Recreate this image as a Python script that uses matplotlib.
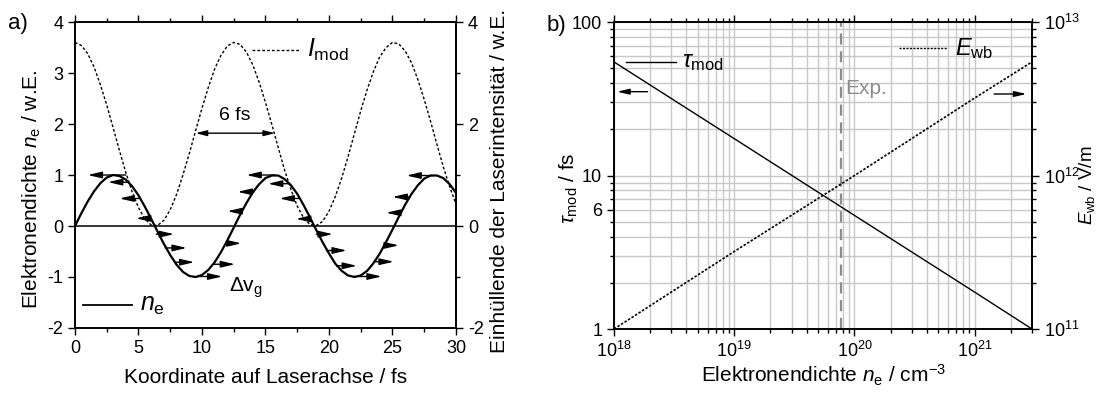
import matplotlib
matplotlib.use('Agg')
import matplotlib.pyplot as plt
import numpy as np
from matplotlib.ticker import MultipleLocator, FixedLocator, FixedFormatter, LogLocator, NullFormatter

plt.rcParams['font.family'] = ['Liberation Sans', 'DejaVu Sans']
plt.rcParams['mathtext.fontset'] = 'custom'
plt.rcParams['mathtext.rm'] = 'Liberation Sans'
plt.rcParams['mathtext.it'] = 'Liberation Sans:italic'
plt.rcParams['font.size'] = 13
plt.rcParams['axes.unicode_minus'] = False

# ---- panel a data ----
x_fs = np.linspace(0, 30, 61)
n_e = [0.00, 0.25, 0.48, 0.68, 0.84, 0.95, 1.00, 0.98, 0.91, 0.78,
       0.60, 0.38, 0.14, -0.11, -0.35, -0.57, -0.76, -0.90, -0.98, -1.00,
       -0.96, -0.86, -0.71, -0.51, -0.28, -0.03, 0.22, 0.45, 0.66, 0.82,
       0.94, 0.99, 0.99, 0.92, 0.80, 0.63, 0.41, 0.17, -0.08, -0.32,
       -0.54, -0.74, -0.88, -0.97, -1.00, -0.97, -0.88, -0.73, -0.54, -0.31,
       -0.07, 0.18, 0.42, 0.63, 0.80, 0.93, 0.99, 0.99, 0.94, 0.82,
       0.65]
I_mod = [3.60, 3.54, 3.38, 3.12, 2.77, 2.37, 1.93, 1.48, 1.05, 0.67,
         0.36, 0.14, 0.02, 0.01, 0.11, 0.32, 0.62, 1.00, 1.42, 1.87,
         2.31, 2.72, 3.08, 3.35, 3.53, 3.60, 3.56, 3.41, 3.16, 2.82,
         2.42, 1.99, 1.54, 1.10, 0.72, 0.39, 0.16, 0.03, 0.01, 0.09,
         0.29, 0.58, 0.94, 1.36, 1.81, 2.26, 2.67, 3.03, 3.32, 3.50,
         3.60, 3.57, 3.43, 3.20, 2.87, 2.48, 2.05, 1.60, 1.16, 0.77,
         0.43]

# group velocity arrows (y, tail x, tip x)
arrow_y    = [1.00, 0.86, 0.54, 0.15, -0.16, -0.43, -0.71, -0.99,
              0.67, 0.29, -0.34, -0.75, 1.00, 0.83, 0.54, 0.14,
              -0.16, -0.48, -0.78, -0.99, -0.70, -0.38, 0.26, 0.57, 0.99]
arrow_tail = [4.0, 4.2, 5.1, 5.9, 6.4, 7.1, 7.9, 9.6,
              14.1, 13.1, 11.9, 10.9, 15.75, 16.8, 17.6, 18.4,
              19.0, 19.8, 20.6, 21.9, 23.5, 24.3, 25.6, 26.4, 28.2]
arrow_tip  = [1.0, 2.6, 3.5, 4.8, 7.8, 8.8, 9.4, 11.6,
              12.8, 12.0, 13.1, 12.6, 13.5, 15.2, 16.1, 17.4,
              20.3, 21.4, 22.2, 24.15, 25.1, 25.5, 24.5, 25.0, 26.1]

# ---- panel b data ----
n_cm3 = [1e18, 1e19, 1e20, 1e21, 3e21]
tau_mod = [55, 17.4, 5.5, 1.74, 1.0]
E_wb = [1e11, 3.2e11, 1e12, 3.2e12, 5.5e12]
n_exp = 7.8e19

fig = plt.figure(figsize=(10.98, 3.93), dpi=100)
axa = fig.add_axes([0.0683, 0.1654, 0.347, 0.7786])
axb = fig.add_axes([0.5592, 0.1628, 0.3807, 0.781])

def style(ax):
    for s in ax.spines.values():
        s.set_linewidth(1.2)
    ax.tick_params(which='both', direction='out', width=1.0, labelsize=13)
    ax.tick_params(which='major', length=5)
    ax.tick_params(which='minor', length=3)

head = '-|>,head_length=0.6,head_width=0.14'

# ---------------- panel a ----------------
axa.plot(x_fs, n_e, color='k', lw=1.6)
axa.axhline(0, color='k', lw=1.1)
axa.set_xlim(0, 30)
axa.set_ylim(-2, 4)
axa.xaxis.set_major_locator(MultipleLocator(5))
axa.xaxis.set_minor_locator(MultipleLocator(2.5))
axa.yaxis.set_major_locator(MultipleLocator(1))
axa.tick_params(top=True, which='both')
style(axa)
axa.set_xlabel('Koordinate auf Laserachse / fs', fontsize=15)
axa.set_ylabel(r'Elektronendichte $n_\mathregular{e}$ / w.E.', fontsize=15)
axa.xaxis.set_label_coords(0.5, -0.13)
axa.yaxis.set_label_coords(-0.084, 0.455)

axa2 = axa.twinx()
axa2.plot(x_fs, I_mod, color='k', lw=1.0, ls=(0, (2, 1.5)))
axa2.set_ylim(-2, 4)
axa2.yaxis.set_major_locator(MultipleLocator(2))
axa2.yaxis.set_minor_locator(MultipleLocator(1))
style(axa2)
axa2.set_ylabel('Einhüllende der Laserintensität / w.E.', fontsize=15)
axa2.yaxis.set_label_coords(1.089, 0.48)

for y, xt, xh in zip(arrow_y, arrow_tail, arrow_tip):
    axa.annotate('', xy=(xh, y), xytext=(xt, y),
                 arrowprops=dict(arrowstyle=head, color='k', lw=1.0,
                                 mutation_scale=14, shrinkA=0, shrinkB=0))

# 6 fs width marker
axa.annotate('', xy=(9.5, 1.82), xytext=(15.75, 1.82),
             arrowprops=dict(arrowstyle='<|-|>,head_length=0.55,head_width=0.14', color='k', lw=1.0,
                             mutation_scale=12, shrinkA=0, shrinkB=0))
axa.text(12.6, 2.0, '6 fs', ha='center', va='bottom', fontsize=14)

# legend-like labels
axa.plot([0.65, 4.5], [-1.55, -1.55], color='k', lw=1.3)
axa.text(5.1, -1.55, r'$n_\mathregular{e}$', fontsize=18, va='center')
axa.plot([13.9, 17.7], [3.45, 3.45], color='k', lw=1.0, ls=(0, (2, 1.5)))
axa.text(18.3, 3.45, r'$I_\mathregular{mod}$', fontsize=18, va='center')
axa.text(12.1, -1.22, r'$\Delta$v$_\mathregular{g}$', fontsize=15, va='center')
fig.text(0.007, 0.94, 'a)', fontsize=16, va='center')

# ---------------- panel b ----------------
axb.set_xscale('log')
axb.set_yscale('log')
axb.plot(n_cm3, tau_mod, color='k', lw=1.0)
axb.axvline(n_exp, color='#8c8c8c', lw=1.6, ls=(0, (5, 3)))
axb.set_xlim(1e18, 3e21)
axb.set_ylim(1, 100)
axb.xaxis.set_major_locator(LogLocator(base=10, numticks=10))
axb.xaxis.set_minor_locator(LogLocator(base=10, subs=np.arange(2, 10), numticks=10))
axb.xaxis.set_minor_formatter(NullFormatter())
axb.yaxis.set_major_locator(FixedLocator([1, 6, 10, 100]))
axb.yaxis.set_major_formatter(FixedFormatter(['1', '6', '10', '100']))
axb.yaxis.set_minor_locator(FixedLocator([2, 3, 4, 5, 7, 8, 9, 20, 30, 40, 50, 60, 70, 80, 90]))
axb.yaxis.set_minor_formatter(NullFormatter())
axb.grid(True, which='both', color='#c8c8c8', lw=1.0)
axb.set_axisbelow(True)
axb.tick_params(top=True, which='both')
style(axb)
axb.set_xlabel(r'Elektronendichte $n_\mathregular{e}$ / cm$^{-3}$', fontsize=15)
axb.set_ylabel(r'$\tau_\mathregular{mod}$ / fs', fontsize=15)
axb.xaxis.set_label_coords(0.5, -0.11)
axb.yaxis.set_label_coords(-0.082, 0.46)

axb2 = axb.twinx()
axb2.set_yscale('log')
axb2.plot(n_cm3, E_wb, color='k', lw=1.2, ls=(0, (1.5, 1)))
axb2.set_ylim(1e11, 1e13)
axb2.yaxis.set_minor_formatter(NullFormatter())
style(axb2)
axb2.set_ylabel(r'$E_\mathregular{wb}$ / V/m', fontsize=13.5)
axb2.yaxis.set_label_coords(1.107, 0.47)

axb.plot([1.26e18, 3.27e18], [54.6, 54.6], color='k', lw=1.0)
axb.text(3.7e18, 54.6, r'$\tau_\mathregular{mod}$', fontsize=17, va='center')
axb.annotate('', xy=(1.06e18, 35.2), xytext=(1.9e18, 35.2),
             arrowprops=dict(arrowstyle=head, color='k', lw=1.0,
                             mutation_scale=12, shrinkA=0, shrinkB=0))
axb.plot([2.36e20, 5.9e20], [67.4, 67.4], color='k', lw=1.0, ls=(0, (1.5, 1)))
axb.text(6.9e20, 67.4, r'$E_\mathregular{wb}$', fontsize=17, va='center')
axb.annotate('', xy=(2.7e21, 34), xytext=(1.45e21, 34),
             arrowprops=dict(arrowstyle=head, color='k', lw=1.0,
                             mutation_scale=12, shrinkA=0, shrinkB=0))
axb.text(8.4e19, 37, 'Exp.', color='#8c8c8c', fontsize=15, va='center')
fig.text(0.498, 0.935, 'b)', fontsize=16, va='center')

fig.savefig('out.png', dpi=100)
